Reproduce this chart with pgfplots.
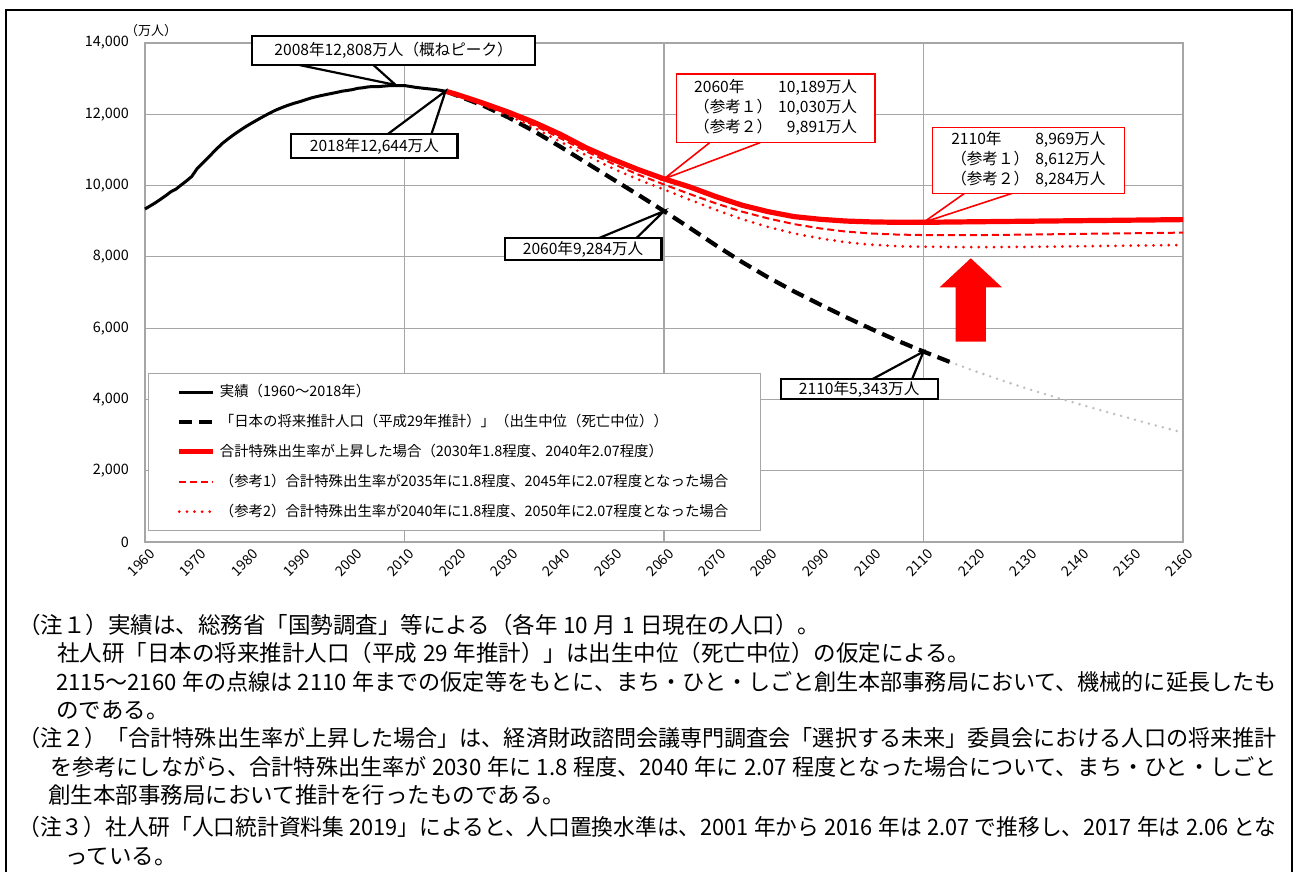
\documentclass[border=0pt]{standalone}
\usepackage{fontspec}
\setmainfont{Noto Sans CJK JP}
\usepackage{graphicx}
\usepackage{pgfplots}
\pgfplotsset{compat=1.18}
\definecolor{jpred}{HTML}{FF0000}
\definecolor{gridgray}{HTML}{A6A6A6}
\definecolor{extgray}{HTML}{BFBFBF}
\newcommand{\fs}[2]{\fontsize{#1}{#2}\selectfont}
\newcommand{\jsp}{\hspace{0.25em}}

\begin{document}
\begin{tikzpicture}
% frame of the figure, in pixel units of the original (y down)
\begin{scope}[shift={(-72.5bp,271bp)}, x=0.5bp, y=-0.5bp]
  \path[use as bounding box] (0,0) rectangle (1295,872);
  \draw[line width=1bp] (6,872) -- (6,10) -- (1292,10) -- (1292,872);
\end{scope}

\begin{axis}[
  at={(0,0)}, anchor=south west,
  scale only axis, width=519bp, height=249.5bp,
  xmin=1960, xmax=2160, ymin=0, ymax=14000,
  xtick={1960,1970,...,2160},
  ytick={0,2000,...,14000},
  minor xtick={2010,2060,2110},
  ymajorgrids, xminorgrids,
  major grid style={draw=gridgray, line width=0.6bp},
  minor grid style={draw=gridgray, line width=0.6bp},
  axis line style={draw=gridgray, line width=0.6bp},
  major tick length=0pt, minor tick length=0pt,
  tick style={draw=none},
  scaled y ticks=false,
  /pgf/number format/assume math mode=true,
  xticklabel style={font=\fs{7bp}{8bp}, rotate=45, anchor=east,
    xshift=2.5bp, yshift=-6bp, /pgf/number format/1000 sep={}},
  yticklabel style={font=\fs{7.2bp}{8bp}, xshift=-4.5bp,
    /pgf/number format/1000 sep={,}},
  clip=false,
  legend cell align=left,
  legend style={at={(0.003,0.339)}, anchor=north west,
    draw=gridgray, line width=0.6bp, fill=white,
    font=\fs{7.2bp}{8bp}, inner xsep=14bp, inner ysep=3.5bp,
    row sep=3.3bp},
]

% mechanical extension 2115-2160
\addplot[extgray, line width=1.4bp, dash pattern=on 0bp off 3.6bp, line cap=round, forget plot] coordinates {
  (2115,5056) (2120,4790) (2125,4540) (2130,4300) (2135,4080) (2140,3870)
  (2145,3660) (2150,3460) (2155,3260) (2160,3070)};

% actual 1960-2018
\addplot[black, line width=1.5bp, line join=round] coordinates {
  (1960,9342) (1961,9429) (1962,9518) (1963,9616) (1964,9718) (1965,9828)
  (1966,9904) (1967,10020) (1968,10133) (1969,10254) (1970,10467) (1971,10614)
  (1972,10760) (1973,10910) (1974,11057) (1975,11194) (1976,11309) (1977,11417)
  (1978,11519) (1979,11616) (1980,11706) (1981,11790) (1982,11873) (1983,11954)
  (1984,12031) (1985,12105) (1986,12166) (1987,12224) (1988,12275) (1989,12321)
  (1990,12361) (1991,12410) (1992,12457) (1993,12494) (1994,12527) (1995,12557)
  (1996,12586) (1997,12616) (1998,12649) (1999,12669) (2000,12693) (2001,12729)
  (2002,12744) (2003,12769) (2004,12779) (2005,12777) (2006,12790) (2007,12803)
  (2008,12808) (2009,12803) (2010,12806) (2011,12783) (2012,12759) (2013,12741)
  (2014,12724) (2015,12709) (2016,12693) (2017,12671) (2018,12644)};
\addlegendentry{実績（1960～2018年）}

% IPSS 2017 projection, medium
\addplot[black, line width=2.1bp, dash pattern=on 6.5bp off 3.5bp] coordinates {
  (2018,12644) (2020,12532) (2025,12254) (2030,11913) (2035,11522) (2040,11092)
  (2045,10642) (2050,10192) (2055,9744) (2060,9284) (2065,8808) (2070,8323)
  (2075,7858) (2080,7429) (2085,7034) (2090,6668) (2095,6313) (2100,5972)
  (2105,5647) (2110,5343) (2115,5056)};
\addlegendentry{「日本の将来推計人口（平成29年推計）」（出生中位（死亡中位））}

% TFR rises
\addplot[jpred, line width=2.6bp, line join=round] coordinates {
  (2018,12644) (2020,12560) (2025,12320) (2030,12060) (2035,11770) (2040,11440)
  (2045,11060) (2050,10740) (2055,10450) (2060,10189) (2065,9960) (2070,9690)
  (2075,9450) (2080,9270) (2085,9130) (2090,9055) (2095,9005) (2100,8980)
  (2105,8970) (2110,8969) (2120,8985) (2130,9000) (2140,9015) (2150,9030)
  (2160,9045)};
\addlegendentry{合計特殊出生率が上昇した場合（2030年1.8程度、2040年2.07程度）}

% reference 1
\addplot[jpred, line width=1bp, dash pattern=on 3.5bp off 2bp] coordinates {
  (2018,12644) (2020,12545) (2025,12290) (2030,12010) (2035,11690) (2040,11330)
  (2045,10960) (2050,10620) (2055,10310) (2060,10030) (2065,9760) (2070,9500)
  (2075,9270) (2080,9080) (2085,8920) (2090,8800) (2095,8710) (2100,8655)
  (2105,8625) (2110,8612) (2120,8610) (2130,8625) (2140,8645) (2150,8662)
  (2160,8680)};
\addlegendentry{（参考1）合計特殊出生率が2035年に1.8程度、2045年に2.07程度となった場合}

% reference 2
\addplot[jpred, line width=1.5bp, dash pattern=on 0bp off 3.8bp, line cap=round] coordinates {
  (2018,12644) (2020,12540) (2025,12270) (2030,11970) (2035,11620) (2040,11230)
  (2045,10850) (2050,10490) (2055,10170) (2060,9891) (2065,9600) (2070,9320)
  (2075,9060) (2080,8840) (2085,8660) (2090,8520) (2095,8410) (2100,8340)
  (2105,8300) (2110,8284) (2120,8272) (2130,8280) (2140,8298) (2150,8315)
  (2160,8332)};
\addlegendentry{（参考2）合計特殊出生率が2040年に1.8程度、2050年に2.07程度となった場合}

% unit
\node[font=\fs{6.5bp}{7bp}] at (rel axis cs:0.006,1) [yshift=6bp] {（万人）};

% callouts (black)
\begin{scope}[draw=black, fill=white, line width=1.1bp, line join=miter]
  \filldraw (axis cs:1989.7,13383) -- (axis cs:2008.3,12822) -- (axis cs:2004,13383);
  \filldraw (axis cs:1980.6,13383) rectangle (axis cs:2035.2,14196);
  \filldraw (axis cs:2006.8,11447) -- (axis cs:2017.9,12650) -- (axis cs:2015.2,11447);
  \filldraw (axis cs:1988.1,10774) rectangle (axis cs:2020.2,11447);
  \filldraw (axis cs:2047.5,8529) -- (axis cs:2060,9284) -- (axis cs:2054.7,8529);
  \filldraw (axis cs:2029.3,7912) rectangle (axis cs:2059.5,8529);
  \filldraw (axis cs:2100.2,4573) -- (axis cs:2110,5343) -- (axis cs:2107.8,4573);
  \filldraw (axis cs:2082.5,4004) rectangle (axis cs:2112.8,4573);
\end{scope}
\node[font=\fs{7.8bp}{8bp}] at (axis cs:2007.9,13790) {2008年12,808万人（概ねピーク）};
\node[font=\fs{7.8bp}{8bp}] at (axis cs:2004.2,11110) {2018年12,644万人};
\node[font=\fs{7.8bp}{8bp}] at (axis cs:2044.4,8220) {2060年9,284万人};
\node[font=\fs{7.8bp}{8bp}] at (axis cs:2097.6,4290) {2110年5,343万人};

% callouts (red)
\begin{scope}[draw=jpred, fill=white, line width=0.8bp, line join=miter]
  \filldraw (axis cs:2068.8,11203) -- (axis cs:2060,10189) -- (axis cs:2078.5,11203);
  \filldraw (axis cs:2062.4,11203) rectangle (axis cs:2100.7,13130);
  \filldraw (axis cs:2117.9,9783) -- (axis cs:2110,8969) -- (axis cs:2127.1,9783);
  \filldraw (axis cs:2111.7,9783) rectangle (axis cs:2148.7,11624);
\end{scope}
\node[font=\fs{7.8bp}{10bp}, inner sep=0pt] at (axis cs:2081.5,12166) {%
  \begin{tabular}{@{}l@{\hspace{3bp}}r@{}}2060年 & 10,189万人\\（参考１） & 10,030万人\\（参考２） & 9,891万人\end{tabular}};
\node[font=\fs{7.8bp}{10bp}, inner sep=0pt] at (axis cs:2130.2,10703) {%
  \begin{tabular}{@{}l@{\hspace{3bp}}r@{}}2110年 & 8,969万人\\（参考１） & 8,612万人\\（参考２） & 8,284万人\end{tabular}};

% block arrow
\fill[jpred] (axis cs:2119.1,7960) -- (axis cs:2125.1,7146) -- (axis cs:2122.0,7146)
  -- (axis cs:2122.0,5620) -- (axis cs:2116.2,5620) -- (axis cs:2116.2,7146)
  -- (axis cs:2113.1,7146) -- cycle;
\end{axis}

% notes, pixel units of the original (y down)
\begin{scope}[shift={(-72.5bp,271bp)}, x=0.5bp, y=-0.5bp]
  \tikzset{every node/.style={anchor=west, inner sep=0pt, font=\fs{11.25bp}{12bp}}}
  \node at (18,625) {（注１）実績は、総務省「国勢調査」等による（各年\jsp{}10\jsp{}月\jsp{}1\jsp{}日現在の人口）。};
  \node at (57,653) {社人研「日本の将来推計人口（平成\jsp{}29\jsp{}年推計）」は出生中位（死亡中位）の仮定による。};
  \node at (56,682) {\resizebox{610bp}{\height}{2115～2160\jsp{}年の点線は\jsp{}2110\jsp{}年までの仮定等をもとに、まち・ひと・しごと創生本部事務局において、機械的に延長したも}};
  \node at (56,710) {のである。};
  \node at (18,738) {\resizebox{629bp}{\height}{（注２）「合計特殊出生率が上昇した場合」は、経済財政諮問会議専門調査会「選択する未来」委員会における人口の将来推計}};
  \node at (50,767) {\resizebox{613bp}{\height}{を参考にしながら、合計特殊出生率が\jsp{}2030\jsp{}年に\jsp{}1.8\jsp{}程度、2040\jsp{}年に\jsp{}2.07\jsp{}程度となった場合について、まち・ひと・しごと}};
  \node at (48,795) {創生本部事務局において推計を行ったものである。};
  \node at (18,827) {\resizebox{629bp}{\height}{（注３）社人研「人口統計資料集\jsp{}2019」によると、人口置換水準は、2001\jsp{}年から\jsp{}2016\jsp{}年は\jsp{}2.07\jsp{}で推移し、2017\jsp{}年は\jsp{}2.06\jsp{}とな}};
  \node at (65,857) {っている。};
\end{scope}
\end{tikzpicture}
\end{document}
